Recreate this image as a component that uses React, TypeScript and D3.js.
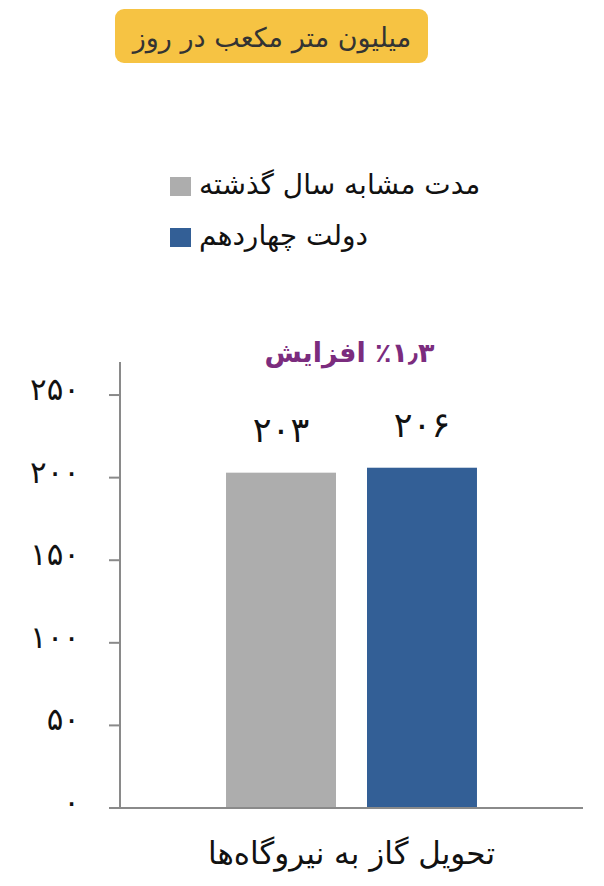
import * as d3 from 'd3';

// chart data
const categories = ['تحویل گاز به نیروگاه‌ها'];
const seriesNames = ['مدت مشابه سال گذشته', 'دولت چهاردهم'];
const seriesColors = ['#adadad', '#335f96'];
const seriesValues = [203, 206];
const yTicks = [0, 50, 100, 150, 200, 250];
const unitLabel = 'میلیون متر مکعب در روز';
const changeLabel = '٪۱٫۳ افزایش';

// parameters
const width = 604;
const height = 886;
const font = '"DejaVu Sans", sans-serif';
const axisColor = '#8a8a8a';

const fa = (n: number) => String(n).replace(/\d/g, d => '۰۱۲۳۴۵۶۷۸۹'[+d]);

export default function App() {
  const y = d3.scaleLinear().domain([0, 270]).range([808, 362]);
  const x0 = d3.scaleBand().domain(categories).range([120, 583]);
  const x1 = d3
    .scaleBand()
    .domain(seriesNames)
    .range([x0(categories[0])!, x0(categories[0])! + x0.bandwidth()])
    .paddingInner(0.22)
    .paddingOuter(0.752);

  const cx = x0(categories[0])! + x0.bandwidth() / 2;

  return (
    <svg
      width={width}
      height={height}
      style={{position: 'absolute', left: 0, top: 0, background: '#fff'}}
      fontFamily={font}
    >
      {/* unit badge */}
      <rect x={115} y={9} width={313} height={54} rx={9} fill="#f6c343" />
      <text x={272} y={47} textAnchor="middle" direction="rtl" fontSize={27} fill="#333">
        {unitLabel}
      </text>

      {/* legend */}
      {seriesNames.map((s, i) => (
        <g key={s} transform={`translate(170,${177 + i * 51})`}>
          <rect width={21} height={19} fill={seriesColors[i]} />
          <text x={29} y={17} direction="rtl" textAnchor="end" fontSize={28} fill="#111">
            {s}
          </text>
        </g>
      ))}

      {/* y axis */}
      <line x1={120} x2={120} y1={y(270)} y2={y(0)} stroke={axisColor} strokeWidth={2} />
      {yTicks.map(t => (
        <g key={t} transform={`translate(0,${y(t)})`}>
          <line x1={109} x2={120} stroke={axisColor} strokeWidth={2} />
          <text x={80} y={5} textAnchor="end" fontSize={31} fill="#111">
            {fa(t)}
          </text>
        </g>
      ))}

      {/* bars */}
      {seriesNames.map((s, i) => (
        <g key={s}>
          <rect
            x={x1(s)}
            y={y(seriesValues[i])}
            width={x1.bandwidth()}
            height={y(0) - y(seriesValues[i])}
            fill={seriesColors[i]}
          />
          <text
            x={x1(s)! + x1.bandwidth() / 2}
            y={y(seriesValues[i]) - 31}
            textAnchor="middle"
            fontSize={35}
            fill="#111"
          >
            {fa(seriesValues[i])}
          </text>
        </g>
      ))}

      {/* x axis */}
      <line x1={109} x2={583} y1={y(0)} y2={y(0)} stroke={axisColor} strokeWidth={2} />

      {/* change annotation */}
      <text x={cx - 2} y={362} textAnchor="middle" direction="rtl" fontSize={27} fontWeight="bold" fill="#7b2c7e">
        {changeLabel}
      </text>

      {/* category label */}
      <text x={cx} y={864} textAnchor="middle" direction="rtl" fontSize={31} fill="#111">
        {categories[0]}
      </text>
    </svg>
  );
}
